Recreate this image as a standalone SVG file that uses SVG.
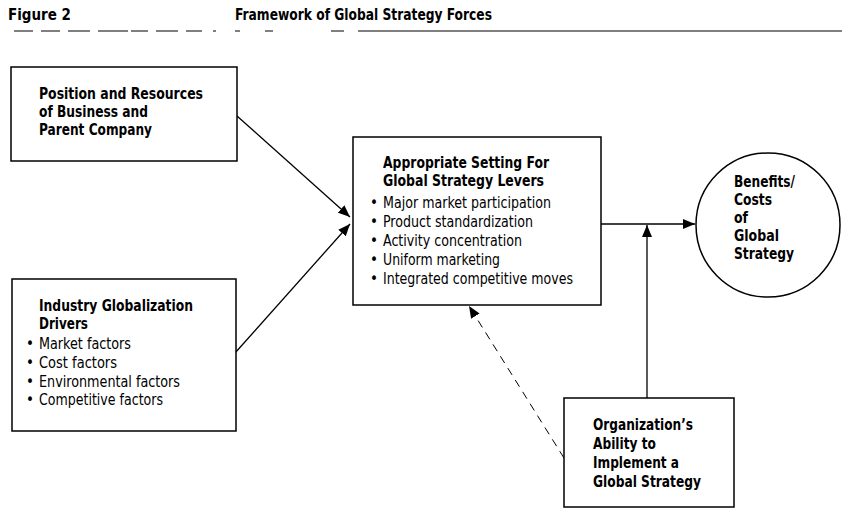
<svg xmlns="http://www.w3.org/2000/svg" width="852" height="522" viewBox="0 0 852 522">
<defs>
<style>
.b{font-family:"Liberation Sans Narrow","DejaVu Sans Condensed","Liberation Sans",sans-serif;font-weight:bold;font-size:15px;fill:#000}
.r{font-family:"Liberation Sans Narrow","DejaVu Sans Condensed","Liberation Sans",sans-serif;font-size:15px;fill:#000}
.box{fill:#fff;stroke:#000;stroke-width:1.5}
.ln{fill:none;stroke:#000;stroke-width:1.3}
.dash{fill:none;stroke:#000;stroke-width:1;stroke-dasharray:8,6}
</style>
<marker id="ah" viewBox="0 0 12 10" refX="12" refY="5" markerWidth="12" markerHeight="10" markerUnits="userSpaceOnUse" orient="auto">
<path d="M0,0 L12,5 L0,10 Z" fill="#000"/>
</marker>
</defs>
<rect width="852" height="522" fill="#fff"/>
<g id="header">
<text class="b" x="8" y="20" textLength="63" lengthAdjust="spacingAndGlyphs">Figure 2</text>
<text class="b" x="235" y="20" textLength="257" lengthAdjust="spacingAndGlyphs">Framework of Global Strategy Forces</text>
<path d="M14,31H33M41,31H60M68,31H90M98,31H128M131,31H148M156,31H178M186,31H202M213,31H216M235,31H240M265,31H273M331,31H344M358,31H842" stroke="#000" stroke-width="1.2" fill="none"/>
</g>
<g id="connectors">
<line class="ln" x1="237" y1="116" x2="350" y2="217" marker-end="url(#ah)"/>
<line class="ln" x1="235" y1="353" x2="350" y2="224" marker-end="url(#ah)"/>
<line class="ln" x1="601" y1="224" x2="695" y2="224" marker-end="url(#ah)"/>
<line class="ln" x1="647" y1="398" x2="647" y2="225" marker-end="url(#ah)"/>
<line class="dash" x1="564" y1="458" x2="469" y2="306" marker-end="url(#ah)"/>
</g>
<g id="node-position">
<rect class="box" x="11" y="67" width="226" height="94"/>
<text class="b" x="39" y="99" textLength="164" lengthAdjust="spacingAndGlyphs">Position and Resources</text>
<text class="b" x="39" y="117" textLength="109" lengthAdjust="spacingAndGlyphs">of Business and</text>
<text class="b" x="39" y="135" textLength="113" lengthAdjust="spacingAndGlyphs">Parent Company</text>
</g>
<g id="node-industry">
<rect class="box" x="12" y="279" width="224" height="152"/>
<text class="b" x="39" y="311" textLength="154" lengthAdjust="spacingAndGlyphs">Industry Globalization</text>
<text class="b" x="39" y="329" textLength="49" lengthAdjust="spacingAndGlyphs">Drivers</text>
<text class="r" x="26" y="349">•</text><text class="r" x="39" y="349" textLength="92" lengthAdjust="spacingAndGlyphs">Market factors</text>
<text class="r" x="26" y="368">•</text><text class="r" x="39" y="368" textLength="78" lengthAdjust="spacingAndGlyphs">Cost factors</text>
<text class="r" x="26" y="387">•</text><text class="r" x="39" y="387" textLength="141" lengthAdjust="spacingAndGlyphs">Environmental factors</text>
<text class="r" x="26" y="405">•</text><text class="r" x="39" y="405" textLength="124" lengthAdjust="spacingAndGlyphs">Competitive factors</text>
</g>
<g id="node-levers">
<rect class="box" x="353" y="137" width="248" height="168"/>
<text class="b" x="383" y="168" textLength="166" lengthAdjust="spacingAndGlyphs">Appropriate Setting For</text>
<text class="b" x="383" y="186" textLength="161" lengthAdjust="spacingAndGlyphs">Global Strategy Levers</text>
<text class="r" x="370" y="208">•</text><text class="r" x="383" y="208" textLength="168" lengthAdjust="spacingAndGlyphs">Major market participation</text>
<text class="r" x="370" y="227">•</text><text class="r" x="383" y="227" textLength="150" lengthAdjust="spacingAndGlyphs">Product standardization</text>
<text class="r" x="370" y="246">•</text><text class="r" x="383" y="246" textLength="139" lengthAdjust="spacingAndGlyphs">Activity concentration</text>
<text class="r" x="370" y="265">•</text><text class="r" x="383" y="265" textLength="117" lengthAdjust="spacingAndGlyphs">Uniform marketing</text>
<text class="r" x="370" y="284">•</text><text class="r" x="383" y="284" textLength="190" lengthAdjust="spacingAndGlyphs">Integrated competitive moves</text>
</g>
<g id="node-benefits">
<circle class="box" cx="768" cy="225" r="72"/>
<text class="b" x="734" y="187" textLength="61" lengthAdjust="spacingAndGlyphs">Benefits/</text>
<text class="b" x="734" y="205" textLength="38" lengthAdjust="spacingAndGlyphs">Costs</text>
<text class="b" x="734" y="223" textLength="14" lengthAdjust="spacingAndGlyphs">of</text>
<text class="b" x="734" y="241" textLength="45" lengthAdjust="spacingAndGlyphs">Global</text>
<text class="b" x="734" y="259" textLength="60" lengthAdjust="spacingAndGlyphs">Strategy</text>
</g>
<g id="node-organization">
<rect class="box" x="564" y="398" width="170" height="109"/>
<text class="b" x="593" y="430" textLength="100" lengthAdjust="spacingAndGlyphs">Organization’s</text>
<text class="b" x="593" y="449" textLength="63" lengthAdjust="spacingAndGlyphs">Ability to</text>
<text class="b" x="593" y="468" textLength="86" lengthAdjust="spacingAndGlyphs">Implement a</text>
<text class="b" x="593" y="487" textLength="108" lengthAdjust="spacingAndGlyphs">Global Strategy</text>
</g>
</svg>
